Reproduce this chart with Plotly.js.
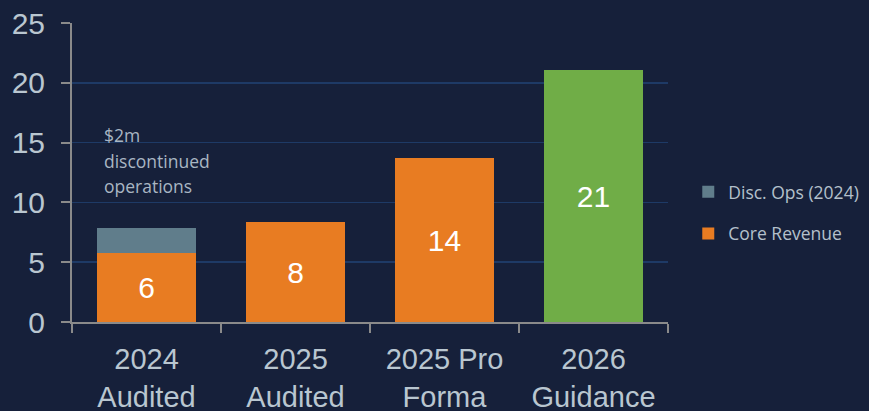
<!DOCTYPE html>
<html>
<head>
<meta charset="utf-8">
<script src="https://cdn.plot.ly/plotly-3.0.1.min.js"></script>
<style>html,body{margin:0;padding:0;background:#16203a;}#chart{width:869px;height:411px;}</style>
</head>
<body>
<div id="chart"></div>
<script>
const categories = ["2024<br>Audited", "2025<br>Audited", "2025 Pro<br>Forma", "2026<br>Guidance"];
const coreRevenue = [5.75, 8.35, 13.7, 21.05];
const coreLabels = ["6", "8", "14", "21"];
const coreColors = ["#e87c22", "#e87c22", "#e87c22", "#70ad47"];
const discOps = [2.1, 0, 0, 0];
const annotationLines = ["$2m", "discontinued", "operations"];

const traces = [
  {
    type: "bar", name: "Core Revenue", x: categories, y: coreRevenue,
    text: coreLabels, textposition: "inside", insidetextanchor: "middle",
    textfont: {family: "Liberation Sans, Arial, sans-serif", size: 30, color: "#ffffff"},
    marker: {color: coreColors}, legendgroup: "core", legendrank: 2, hoverinfo: "skip"
  },
  {
    type: "bar", name: "Disc. Ops (2024)", x: categories, y: discOps,
    marker: {color: "#607d8b"}, legendgroup: "disc", legendrank: 1, hoverinfo: "skip", textposition: "none"
  }
];

const annotations = annotationLines.map((t, i) => ({
  text: t, xref: "paper", yref: "paper", x: 0.05, xanchor: "left",
  y: [0.626, 0.54, 0.456][i], yanchor: "middle", showarrow: false,
  font: {family: "Open Sans, sans-serif", size: 17.5, color: "#a9b6c3"}
}));

const layout = {
  width: 869, height: 411,
  paper_bgcolor: "#16203a", plot_bgcolor: "#16203a",
  margin: {l: 72, r: 201, t: 23, b: 89, autoexpand: false},
  barmode: "stack", bargap: 0.34,
  showlegend: true,
  legend: {
    x: 1.034, xanchor: "left", y: 0.365, yanchor: "middle",
    traceorder: "grouped", tracegroupgap: 16,
    font: {family: "Open Sans, sans-serif", size: 17.5, color: "#b4c0cb"},
    bgcolor: "rgba(0,0,0,0)"
  },
  xaxis: {
    type: "category", tickson: "boundaries", ticks: "outside", ticklen: 9,
    tickcolor: "#8a8a8a", tickwidth: 2, showline: true, linecolor: "#8a8a8a", linewidth: 2,
    showgrid: false, ticklabelstandoff: 10,
    tickfont: {family: "Liberation Sans, Arial, sans-serif", size: 29, color: "#b9c6d0"}
  },
  yaxis: {
    range: [0, 25], dtick: 5, ticks: "outside", ticklen: 9, tickcolor: "#8a8a8a", tickwidth: 2,
    showline: true, linecolor: "#8a8a8a", linewidth: 2,
    gridcolor: "#1e3a66", gridwidth: 1.5, zeroline: false, ticklabelstandoff: 10,
    tickfont: {family: "Liberation Sans, Arial, sans-serif", size: 30, color: "#b9c6d0"}
  },
  annotations: annotations
};

Plotly.newPlot("chart", traces, layout, {displayModeBar: false, staticPlot: true});
</script>
</body>
</html>
